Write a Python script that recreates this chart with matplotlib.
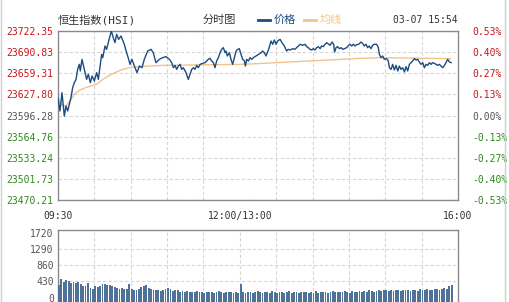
import numpy as np
import matplotlib
matplotlib.use('Agg')
import matplotlib.pyplot as plt
from matplotlib.lines import Line2D

# ---------------- data ----------------
price_min = [0, 1.6, 3.3, 5.2, 6.6, 8.0, 10.7, 12.1, 13.5, 14.9, 16.2, 17.6, 18.4, 19.8, 21.7, 23.6, 25.0, 26.7, 28.1,
             30.0, 31.9, 33.3, 34.7, 36.0, 36.9, 38.8, 40.1, 41.8, 44.0, 45.6, 47.0, 48.4, 50.0, 52.0, 54.7, 56.6,
             58.3, 59.4, 61.0, 63.0, 65.2, 67.1, 69.3, 71.2, 74.0, 76.7, 78.6, 80.8, 83.6, 86.4, 89.1, 91.9, 93.8,
             95.2, 96.5, 97.9, 99.3, 100.7, 102.0, 103.4, 105.6, 107.5, 108.9, 110.3, 111.7, 113.0, 114.4, 115.8,
             117.2, 119.4, 121.3, 122.7, 124.0, 125.4, 126.8, 128.2, 129.5, 130.9, 132.3, 133.7, 135.0, 136.4,
             137.8, 138.6, 139.7, 141.4, 142.7, 144.1, 145.5, 146.9, 148.3, 149.6, 151.0, 152.4, 153.8, 154.6,
             155.7, 157.1, 158.4, 159.8, 161.2, 163.4, 165.5, 167.5, 168.8, 170.2, 171.6, 173.8, 175.7, 177.1,
             178.5, 179.9, 181.2, 183.2, 184.8, 186.7, 188.6, 190.0, 191.7, 193.6, 195.5, 196.9, 198.3, 199.9,
             201.9, 203.8, 205.2, 206.5, 207.9, 209.3, 210.6, 212.0, 213.4, 214.8, 216.2, 217.5, 218.9, 220.3,
             221.7, 223.3, 224.4, 226.1, 227.4, 228.2, 229.4, 230.7, 232.1, 233.5, 234.9, 236.2, 238.2, 239.8,
             240.9, 242.3, 243.7, 245.0, 246.4, 248.0, 250.0, 251.3, 252.7, 254.1, 255.4, 256.8, 258.2, 259.6,
             260.9, 262.9, 264.3, 265.1, 266.5, 267.9, 269.2, 271.2, 272.5, 273.4, 274.8, 276.1, 277.5, 278.9,
             280.3, 281.6, 283.0, 284.4, 285.8, 287.1, 288.5, 289.9, 291.3, 292.6, 294.0, 295.4, 296.8, 298.1,
             299.5, 300.9, 302.3, 303.6, 305.0, 306.4, 307.8, 309.1, 310.5, 311.9, 313.3, 314.6, 316.0, 317.4,
             318.8, 320.1, 321.5, 322.9, 324.3]
price_val = [23622.9, 23603.0, 23630.3, 23595.5, 23610.5, 23603.0, 23622.9, 23637.8, 23645.3, 23650.2, 23665.1,
             23672.6, 23662.7, 23680.1, 23665.1, 23650.2, 23657.7, 23645.3, 23655.2, 23647.8, 23660.2, 23650.2,
             23670.1, 23687.5, 23682.6, 23700.0, 23695.0, 23707.4, 23722.4, 23712.4, 23705.0, 23717.4, 23709.9,
             23714.9, 23702.5, 23690.0, 23680.1, 23672.6, 23680.1, 23670.1, 23660.2, 23670.1, 23667.6, 23680.1,
             23692.5, 23695.0, 23690.0, 23675.1, 23680.1, 23682.6, 23684.1, 23680.1, 23675.1, 23667.6, 23671.1,
             23665.1, 23670.1, 23672.6, 23665.1, 23667.6, 23660.2, 23650.2, 23657.7, 23665.1, 23667.6, 23665.1,
             23671.1, 23667.6, 23672.6, 23674.1, 23675.1, 23677.6, 23680.1, 23681.6, 23677.6, 23675.1, 23667.6,
             23677.6, 23682.6, 23690.0, 23695.0, 23697.5, 23690.0, 23692.5, 23685.1, 23690.0, 23680.1, 23672.6,
             23682.6, 23692.5, 23695.0, 23696.0, 23687.5, 23680.1, 23677.6, 23670.1, 23680.1, 23677.6, 23682.6,
             23680.1, 23682.6, 23685.1, 23687.5, 23690.0, 23692.5, 23690.0, 23685.1, 23695.0, 23707.4, 23702.5,
             23708.9, 23702.5, 23707.4, 23709.9, 23704.9, 23700.0, 23692.5, 23695.0, 23694.0, 23696.0, 23695.0,
             23697.5, 23700.0, 23702.5, 23701.0, 23702.5, 23699.0, 23697.5, 23695.0, 23694.0, 23696.0, 23694.0,
             23697.5, 23699.0, 23696.0, 23700.0, 23699.0, 23702.5, 23704.9, 23702.5, 23701.0, 23705.9, 23702.5,
             23691.0, 23697.5, 23699.0, 23696.0, 23697.5, 23695.0, 23696.0, 23697.5, 23701.0, 23702.5, 23700.0,
             23702.5, 23700.0, 23702.0, 23702.5, 23705.9, 23703.9, 23700.0, 23702.5, 23697.5, 23700.0, 23696.0,
             23701.0, 23702.5, 23702.5, 23697.5, 23687.5, 23682.6, 23685.1, 23680.1, 23681.1, 23677.6, 23667.6,
             23665.1, 23672.6, 23664.2, 23671.1, 23662.7, 23670.1, 23665.1, 23667.6, 23661.2, 23669.1, 23662.7,
             23672.6, 23675.1, 23677.6, 23681.1, 23679.1, 23680.1, 23676.1, 23672.6, 23675.1, 23667.6, 23672.6,
             23671.1, 23675.1, 23672.6, 23675.1, 23674.1, 23672.6, 23671.1, 23672.6, 23670.1, 23667.6, 23671.1,
             23675.1, 23680.1, 23676.1, 23675.1]

avg_min = [0, 3, 6.6, 10.7, 13.5, 17.6, 23, 28.6, 32.7, 36.9, 42.4, 47.9, 53.4, 58.8, 65.7, 75, 85, 120, 150,
           163, 200, 250, 266, 290, 324]
avg_val = [23622, 23612, 23610.5, 23620, 23628, 23634, 23638, 23641, 23644, 23650, 23656, 23661, 23665, 23667.6,
           23669, 23670, 23671, 23672, 23672.5, 23673.5, 23677, 23681.5, 23682.5, 23682, 23681]

volume = [330, 490, 420, 480, 440, 400, 420, 380, 410, 360, 300,
          320, 380, 260, 240, 300, 270, 320, 350, 360, 330,
          340, 300, 280, 260, 230, 250, 220, 240, 360, 230,
          210, 200, 230, 270, 300, 330, 250, 220, 200, 210,
          190, 170, 200, 230, 260, 220, 180, 200, 190, 160,
          170, 150, 180, 160, 140, 150, 170, 140, 160, 130,
          150, 140, 160, 120, 150, 170, 140, 130, 150, 140, 160, 130, 140, 120, 370,
          140, 130, 160, 150, 120, 140, 170, 150, 130, 140,
          150, 130, 170, 140, 120, 150, 160, 130, 140, 170, 120, 150, 140, 130, 160,
          140, 150, 120, 160, 130, 170, 110, 150, 140, 160, 130, 150, 170, 140, 150,
          160, 140, 170, 150, 130, 180, 160, 140, 170, 150, 180, 160, 190, 170, 160,
          180, 200, 170, 190, 210, 180, 200, 170, 190, 200, 180, 210, 190, 200, 170,
          190, 210, 180, 220, 200, 190, 230, 210, 200, 220, 240, 210, 230, 250, 220, 300, 340]
vol_min = list(np.arange(len(volume)) * 2)

left_labels = ["23722.35", "23690.83", "23659.31", "23627.80", "23596.28",
               "23564.76", "23533.24", "23501.73", "23470.21"]
right_labels = ["0.53%", "0.40%", "0.27%", "0.13%", "0.00%", "-0.13%", "-0.27%", "-0.40%", "-0.53%"]
vol_ticks = [0, 430, 860, 1290, 1720]
x_ticks = [0, 150, 330]
x_labels = ["09:30", "12:00/13:00", "16:00"]

# ---------------- style ----------------
W, H = 510, 302
RED, GREEN, GRAY = '#c8161d', '#2f8a1e', '#555555'
PRICE_C, AVG_C, VOL_C = '#1c4c82', '#f0c48c', '#4f7299'
GRID_C = '#d6d6d6'
MONO = ['DejaVu Sans Mono']
CJK = ['Noto Sans CJK SC', 'DejaVu Sans']
MIX = ['DejaVu Sans Mono', 'Noto Sans CJK SC']

fig = plt.figure(figsize=(W / 100, H / 100), dpi=100)
ax = fig.add_axes([58 / W, 1 - 200 / H, 400 / W, 169 / H])
axv = fig.add_axes([58 / W, 1 - 302 / H, 400 / W, 72 / H])

vals = [float(v) for v in left_labels]
ymin, ymax = vals[-1], vals[0]

ax.plot(avg_min, avg_val, color=AVG_C, lw=1.0, zorder=3)
ax.plot(price_min, price_val, color=PRICE_C, lw=1.0, zorder=4)
ax.set_xlim(0, 330)
ax.set_ylim(ymin, ymax)
ax.set_yticks(vals)
ax.set_yticklabels(left_labels, fontfamily=MONO, fontsize=7)
for lab, v in zip(ax.get_yticklabels(), vals):
    lab.set_color(RED if v > vals[4] + 0.01 else (GREEN if v < vals[4] - 0.01 else GRAY))
ax.set_xticks(x_ticks)
ax.set_xticklabels(x_labels, fontfamily=MONO, fontsize=7, color='#333333')
ax.set_xticks(np.arange(0, 331, 30), minor=True)
ax.tick_params(axis='both', which='both', length=0)
ax.tick_params(axis='y', pad=3.5)
ax.tick_params(axis='x', pad=8)
ax.grid(True, which='minor', axis='x', color=GRID_C, ls=(0, (3, 2)), lw=0.8)
ax.grid(True, which='major', axis='y', color=GRID_C, ls=(0, (3, 2)), lw=0.8)
for s in ax.spines.values():
    s.set_color('#8a8a8a')
    s.set_linewidth(1)

axr = ax.twinx()
axr.set_ylim(ymin, ymax)
axr.set_yticks(vals)
axr.set_yticklabels(right_labels, fontfamily=MONO, fontsize=7)
for lab, v in zip(axr.get_yticklabels(), vals):
    lab.set_color(RED if v > vals[4] + 0.01 else (GREEN if v < vals[4] - 0.01 else GRAY))
axr.tick_params(axis='y', length=0, pad=10)
for s in axr.spines.values():
    s.set_visible(False)

# volume
VBOT, VTOP = -120, 1800
axv.bar(vol_min, [v - VBOT for v in volume], width=1.5, align='edge', color=VOL_C, bottom=VBOT, zorder=3)
axv.set_xlim(0, 330)
axv.set_ylim(VBOT, VTOP)
axv.set_yticks(vol_ticks)
axv.set_yticklabels([str(t) for t in vol_ticks], fontfamily=MONO, fontsize=7, color=GRAY)
axv.set_xticks(np.arange(0, 331, 30))
axv.set_xticklabels([])
axv.tick_params(axis='both', length=0)
axv.tick_params(axis='y', pad=3)
axv.grid(True, axis='x', color=GRID_C, ls=(0, (3, 2)), lw=0.8)
for t in vol_ticks[1:4]:
    axv.axhline(t, color=GRID_C, ls=(0, (3, 2)), lw=0.8, zorder=1)
for s in axv.spines.values():
    s.set_color('#8a8a8a')
    s.set_linewidth(1)
axv.spines['bottom'].set_visible(False)

# header
fig.text(58 / W, 1 - 20 / H, "恒生指数(HSI)", fontfamily=MIX, fontsize=8, color='#333333', va='center')
fig.text(203 / W, 1 - 20 / H, "分时图", fontfamily=CJK, fontsize=8, color='#333333', va='center')
fig.add_artist(Line2D([258 / W, 270 / W], [1 - 20 / H, 1 - 20 / H], color=PRICE_C, lw=2))
fig.text(274 / W, 1 - 20 / H, "价格", fontfamily=CJK, fontsize=8, color=PRICE_C, va='center')
fig.add_artist(Line2D([304 / W, 316 / W], [1 - 20 / H, 1 - 20 / H], color=AVG_C, lw=2))
fig.text(320 / W, 1 - 20 / H, "均线", fontfamily=CJK, fontsize=8, color=AVG_C, va='center')
fig.text(458 / W, 1 - 20 / H, "03-07 15:54", fontfamily=MONO, fontsize=7, color='#333333', va='center', ha='right')

# outer frame lines
fig.add_artist(Line2D([1.5 / W, 1.5 / W], [0, 1], color='#d0d0d0', lw=1))
fig.add_artist(Line2D([505.5 / W, 505.5 / W], [0, 1], color='#d0d0d0', lw=1))

fig.savefig('out.png', dpi=100)
